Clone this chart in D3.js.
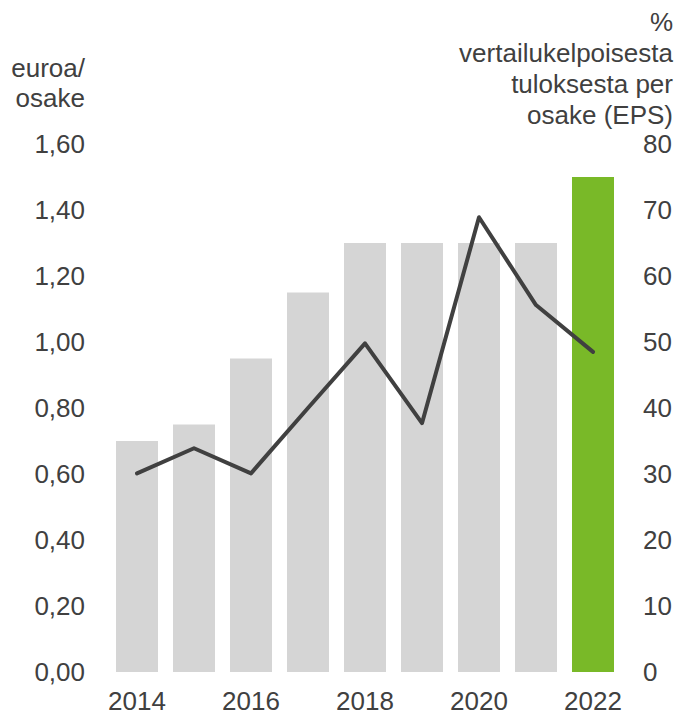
<!DOCTYPE html>
<html>
<head>
<meta charset="utf-8">
<script src="https://cdn.jsdelivr.net/npm/d3@7"></script>
<style>
  body { margin: 0; background: #fff; }
  svg text { font-family: "Liberation Sans", Arial, sans-serif; fill: #404040; }
</style>
</head>
<body>
<svg id="chart" width="678" height="715"></svg>
<script>
// ----------------------
// data
// ----------------------
const years = [2014, 2015, 2016, 2017, 2018, 2019, 2020, 2021, 2022];
const dividend = [0.70, 0.75, 0.95, 1.15, 1.30, 1.30, 1.30, 1.30, 1.50];   // euroa/osake
const payoutPct = [30.1, 33.9, 30.1, 40.0, 49.8, 37.7, 68.9, 55.6, 48.5]; // % of EPS
const leftTicks = [0, 0.2, 0.4, 0.6, 0.8, 1.0, 1.2, 1.4, 1.6];
const rightTicks = [0, 10, 20, 30, 40, 50, 60, 70, 80];
const xLabelYears = [2014, 2016, 2018, 2020, 2022];
const leftTitle = ["euroa/", "osake"];
const rightTitle = ["%", "vertailukelpoisesta", "tuloksesta per", "osake (EPS)"];

// ----------------------
// layout + scales
// ----------------------
const svg = d3.select("#chart");
const fontSize = 26;

const x = d3.scaleBand().domain(years).range([116, 614])
  .paddingInner(0.263).paddingOuter(0);
const yL = d3.scaleLinear().domain([0, 1.6]).range([672, 144]);
const yR = d3.scaleLinear().domain([0, 80]).range([672, 144]);

const fmt = d3.format(".2f");

// bars
svg.append("g").selectAll("rect")
  .data(years)
  .join("rect")
  .attr("x", d => x(d))
  .attr("width", x.bandwidth())
  .attr("y", (d, i) => yL(dividend[i]))
  .attr("height", (d, i) => yL(0) - yL(dividend[i]))
  .attr("fill", (d, i) => i === years.length - 1 ? "#79b928" : "#d5d5d5");

// line
const line = d3.line()
  .x((d, i) => x(years[i]) + x.bandwidth() / 2)
  .y(d => yR(d));

svg.append("path")
  .datum(payoutPct)
  .attr("d", line)
  .attr("fill", "none")
  .attr("stroke", "#404040")
  .attr("stroke-width", 4)
  .attr("stroke-linejoin", "round")
  .attr("stroke-linecap", "round");

// left axis labels
svg.append("g").selectAll("text")
  .data(leftTicks)
  .join("text")
  .attr("x", 85)
  .attr("y", d => yL(d))
  .attr("dy", "0.35em")
  .attr("text-anchor", "end")
  .style("font-size", fontSize + "px")
  .text(d => fmt(d).replace(".", ","));

// right axis labels
svg.append("g").selectAll("text")
  .data(rightTicks)
  .join("text")
  .attr("x", 643)
  .attr("y", d => yR(d))
  .attr("dy", "0.35em")
  .attr("text-anchor", "start")
  .style("font-size", fontSize + "px")
  .text(d => d);

// x labels
svg.append("g").selectAll("text")
  .data(xLabelYears)
  .join("text")
  .attr("x", d => x(d) + x.bandwidth() / 2)
  .attr("y", 701)
  .attr("dy", "0.35em")
  .attr("text-anchor", "middle")
  .style("font-size", fontSize + "px")
  .text(d => d);

// axis titles
svg.append("g").selectAll("text")
  .data(leftTitle)
  .join("text")
  .attr("x", 85)
  .attr("y", (d, i) => 77 + i * 30)
  .attr("text-anchor", "end")
  .style("font-size", fontSize + "px")
  .text(d => d);

svg.append("g").selectAll("text")
  .data(rightTitle)
  .join("text")
  .attr("x", 673)
  .attr("y", (d, i) => 31 + i * 31)
  .attr("text-anchor", "end")
  .style("font-size", fontSize + "px")
  .text(d => d);
</script>
</body>
</html>
